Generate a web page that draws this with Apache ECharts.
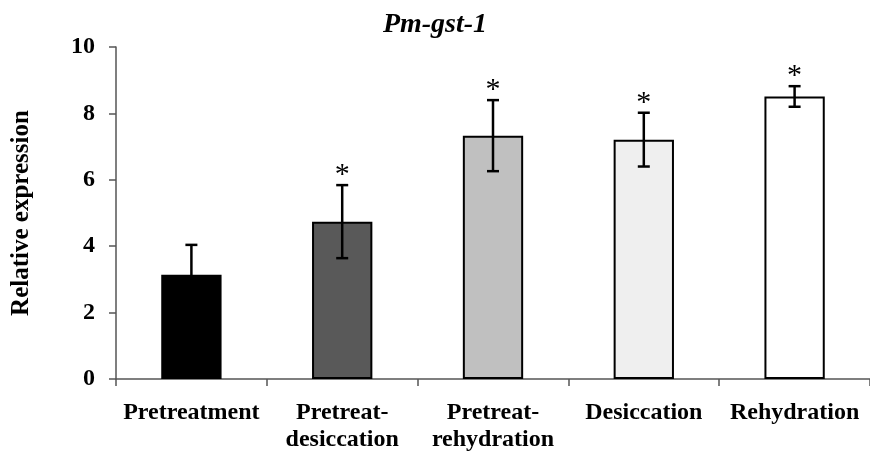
<!DOCTYPE html>
<html>
<head>
<meta charset="utf-8">
<script src="https://cdn.jsdelivr.net/npm/echarts@6/dist/echarts.min.js"></script>
<style>html,body{margin:0;padding:0;background:#fff;}#c{width:870px;height:459px;}</style>
</head>
<body>
<div id="c"></div>
<script>
var categories = ['Pretreatment', 'Pretreat-\ndesiccation', 'Pretreat-\nrehydration', 'Desiccation', 'Rehydration'];
var means = [3.14, 4.74, 7.33, 7.21, 8.51];
var sd = [0.9, 1.1, 1.07, 0.81, 0.31];
var significant = [false, true, true, true, true];
var barColors = ['#000000', '#595959', '#c0c0c0', '#efefef', '#ffffff'];
var yTicks = [0, 2, 4, 6, 8, 10];

var serif = '"Liberation Serif", "DejaVu Serif", serif';
var chart = echarts.init(document.getElementById('c'));

var errData = categories.map(function (c, i) { return [i, means[i] - sd[i], means[i] + sd[i], significant[i] ? 1 : 0]; });

chart.setOption({
  animation: false,
  backgroundColor: '#fff',
  title: {
    text: 'Pm-gst-1', left: 'center', top: 6,
    textStyle: { fontFamily: serif, fontSize: 28, fontWeight: 'bold', fontStyle: 'italic', color: '#000' }
  },
  grid: { left: 116, right: -11, top: 47, bottom: 80 },
  xAxis: {
    type: 'category', data: categories,
    axisLine: { lineStyle: { color: '#555', width: 1.5 } },
    axisTick: { show: true, length: 7, lineStyle: { color: '#555', width: 1.5 } },
    axisLabel: { fontFamily: serif, fontSize: 24, fontWeight: 'bold', color: '#000', margin: 20, lineHeight: 27, interval: 0 }
  },
  yAxis: {
    type: 'value', min: yTicks[0], max: yTicks[yTicks.length - 1], interval: 2,
    name: 'Relative expression', nameLocation: 'middle', nameGap: 82, nameRotate: 90,
    nameTextStyle: { fontFamily: serif, fontSize: 25, fontWeight: 'bold', color: '#000' },
    axisLine: { show: true, lineStyle: { color: '#555', width: 1.5 } },
    axisTick: { show: true, length: 7, lineStyle: { color: '#555', width: 1.5 } },
    axisLabel: { fontFamily: serif, fontSize: 24, fontWeight: 'bold', color: '#000', margin: 21 },
    splitLine: { show: false }
  },
  series: [
    {
      type: 'bar', barWidth: '40%',
      data: means.map(function (v, i) {
        return { value: v, itemStyle: { color: barColors[i], borderColor: '#000', borderWidth: 2 } };
      }),
      z: 2
    },
    {
      type: 'custom', z: 5,
      data: errData,
      renderItem: function (params, api) {
        var x = api.value(0);
        var lo = api.coord([x, api.value(1)]);
        var hi = api.coord([x, api.value(2)]);
        var w = 6;
        var style = { stroke: '#000', lineWidth: 2.5 };
        var children = [
          { type: 'line', shape: { x1: lo[0], y1: lo[1], x2: hi[0], y2: hi[1] }, style: style },
          { type: 'line', shape: { x1: hi[0] - w, y1: hi[1], x2: hi[0] + w, y2: hi[1] }, style: style },
          { type: 'line', shape: { x1: lo[0] - w, y1: lo[1], x2: lo[0] + w, y2: lo[1] }, style: style }
        ];
        if (api.value(3)) {
          children.push({ type: 'text', x: hi[0], y: hi[1] + 5,
            style: { text: '*', fontFamily: serif, fontSize: 30, fontWeight: 'normal', fill: '#000', align: 'center', verticalAlign: 'bottom' } });
        }
        return { type: 'group', children: children };
      }
    }
  ]
});
</script>
</body>
</html>
